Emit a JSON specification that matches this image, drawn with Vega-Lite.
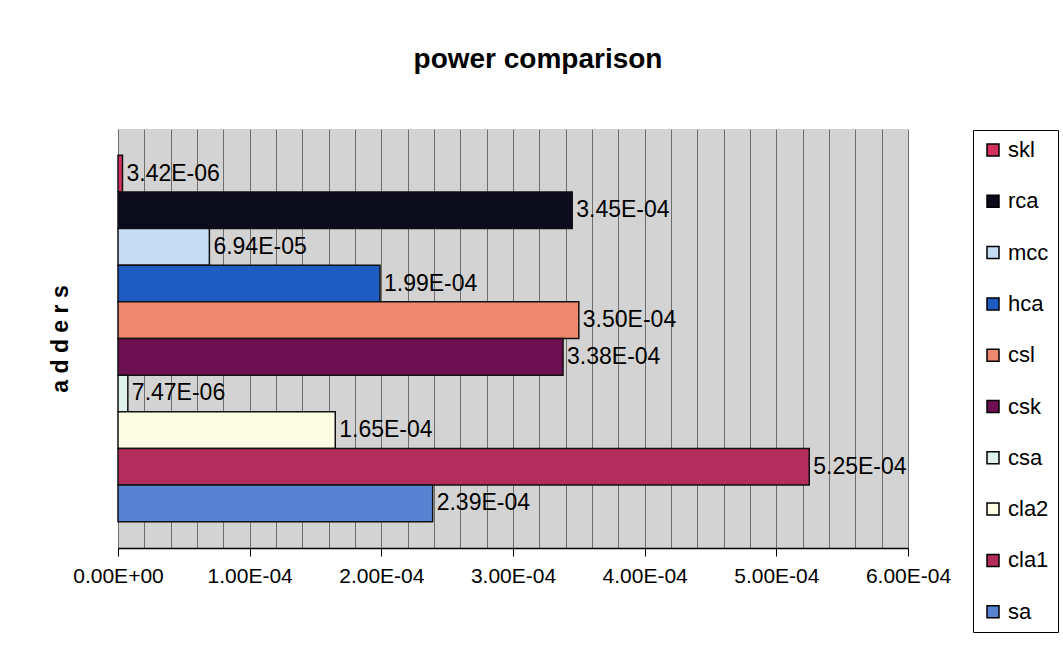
{
  "$schema": "https://vega.github.io/schema/vega-lite/v6.json",
  "width": 790,
  "height": 419,
  "autosize": {"type": "none"},
  "padding": {"left": 118, "top": 129, "right": 155, "bottom": 97},
  "background": "white",
  "title": {
    "text": "power comparison",
    "font": "Liberation Sans",
    "fontSize": 28,
    "fontWeight": "bold",
    "color": "black",
    "anchor": "middle",
    "frame": "group",
    "dx": 25,
    "offset": 55
  },
  "config": {
    "view": {"fill": "#d3d3d3", "stroke": null},
    "font": "Liberation Sans"
  },
  "data": {
    "values": [
      {"adder": "skl", "power": 0.00000342},
      {"adder": "rca", "power": 0.000345},
      {"adder": "mcc", "power": 0.0000694},
      {"adder": "hca", "power": 0.000199},
      {"adder": "csl", "power": 0.000350},
      {"adder": "csk", "power": 0.000338},
      {"adder": "csa", "power": 0.00000747},
      {"adder": "cla2", "power": 0.000165},
      {"adder": "cla1", "power": 0.000525},
      {"adder": "sa", "power": 0.000239}
    ]
  },
  "transform": [
    {"calculate": "replace(upper(format(datum.power, '.2e')), regexp('E-([0-9])$'), 'E-0$1')", "as": "label"}
  ],
  "encoding": {
    "y": {
      "field": "adder",
      "type": "nominal",
      "sort": ["skl", "rca", "mcc", "hca", "csl", "csk", "csa", "cla2", "cla1", "sa"],
      "scale": {"paddingInner": 0, "paddingOuter": 0.72},
      "axis": {
        "title": "a d d e r s",
        "titleFont": "Liberation Sans",
        "titleFontSize": 23,
        "titleFontWeight": "bold",
        "titleColor": "black",
        "titlePadding": 46,
        "labels": false,
        "ticks": false,
        "domain": false,
        "grid": false
      }
    },
    "x": {
      "field": "power",
      "type": "quantitative",
      "scale": {"domain": [0, 0.0006], "nice": false},
      "axis": {
        "title": null,
        "values": [0, 0.00002, 0.00004, 0.00006, 0.00008, 0.0001, 0.00012, 0.00014, 0.00016, 0.00018, 0.0002, 0.00022, 0.00024, 0.00026, 0.00028, 0.0003, 0.00032, 0.00034, 0.00036, 0.00038, 0.0004, 0.00042, 0.00044, 0.00046, 0.00048, 0.0005, 0.00052, 0.00054, 0.00056, 0.00058, 0.0006],
        "labelExpr": "abs(datum.value * 10000 - round(datum.value * 10000)) < 0.001 ? (datum.value == 0 ? '0.00E+00' : replace(upper(format(datum.value, '.2e')), regexp('E-([0-9])$'), 'E-0$1')) : ''",
        "labelFont": "Liberation Sans",
        "labelFontSize": 21,
        "labelColor": "black",
        "labelPadding": 9,
        "labelOverlap": false,
        "labelFlush": false,
        "grid": true,
        "gridColor": "#6e6e6e",
        "gridWidth": 1,
        "domain": true,
        "domainColor": "black",
        "domainWidth": 1.5,
        "ticks": true,
        "tickColor": "black",
        "tickSize": 8,
        "tickWidth": 1,
        "tickOpacity": {"condition": {"test": "abs(datum.value * 10000 - round(datum.value * 10000)) < 0.001", "value": 1}, "value": 0}
      }
    }
  },
  "layer": [
    {
      "mark": {"type": "bar", "stroke": "#111111", "strokeWidth": 1.5},
      "encoding": {
        "color": {
          "field": "adder",
          "type": "nominal",
          "scale": {
            "domain": ["skl", "rca", "mcc", "hca", "csl", "csk", "csa", "cla2", "cla1", "sa"],
            "range": ["#d4305e", "#0b0b1c", "#c6def5", "#1f5cc2", "#f08870", "#6c1052", "#dcf2ea", "#fdfde4", "#b42c5c", "#5882d2"]
          },
          "legend": {
            "title": null,
            "orient": "none",
            "legendX": 855,
            "legendY": 1,
            "direction": "vertical",
            "fillColor": "white",
            "strokeColor": "black",
            "padding": 9,
            "rowPadding": 29.3,
            "symbolType": "square",
            "symbolSize": 144,
            "symbolStrokeColor": "black",
            "symbolStrokeWidth": 1.5,
            "symbolOpacity": 1,
            "labelFont": "Liberation Sans",
            "labelFontSize": 22,
            "labelColor": "black",
            "labelOffset": 4
          }
        }
      }
    },
    {
      "mark": {"type": "text", "align": "left", "baseline": "middle", "dx": 4, "font": "Liberation Sans", "fontSize": 23, "color": "black"},
      "encoding": {
        "text": {"field": "label", "type": "nominal"}
      }
    }
  ]
}
